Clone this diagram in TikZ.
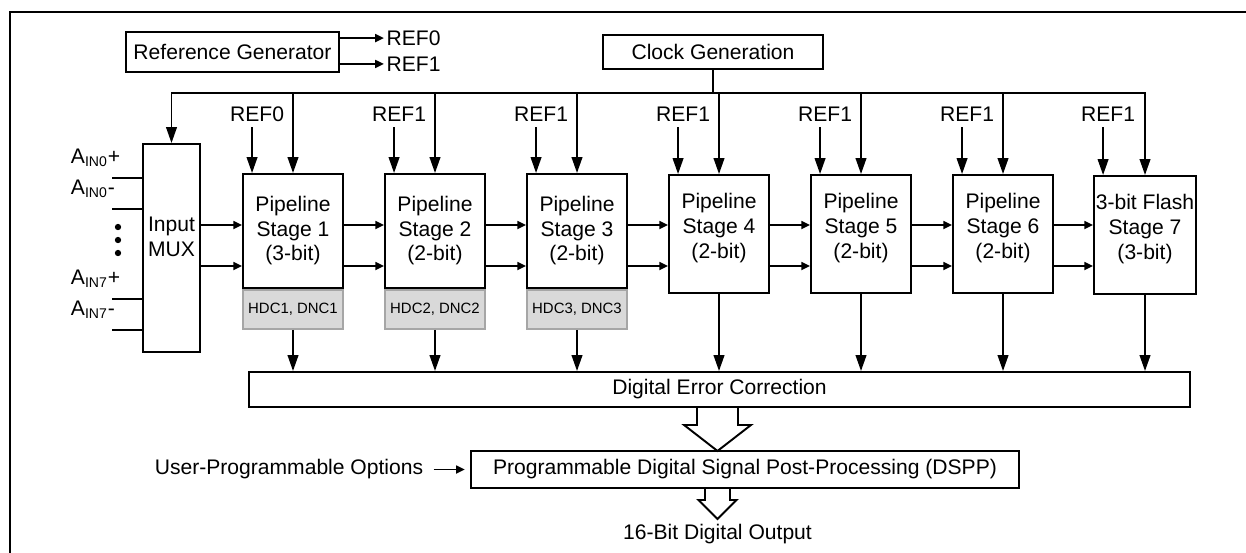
\documentclass[tikz,border=0pt]{standalone}
\usepackage{fontspec}
\setmainfont{Liberation Sans}
\usetikzlibrary{arrows.meta,calc}
\begin{document}
\begin{tikzpicture}[x=0.02cm,y=-0.02cm,line width=1.1pt,
        >={Triangle[length=9pt,width=6pt]},
        every node/.style={font=\fontsize{12}{14.2}\selectfont},
        block/.style={draw,align=center,inner sep=1pt},
        stage box/.style={block,minimum width=2cm},
        cal box/.style={block,fill=black!15,draw=black!35,minimum width=2cm,minimum height=0.78cm,font=\fontsize{8.5}{10}\selectfont},
        small tip/.style={-{Triangle[length=5pt,width=4.5pt]}},
        hollow arrow/.style={line join=miter},]
        \useasboundingbox (0,0) rectangle (1246,552);
        \draw (10,560) -- (10,12) -- (1260,12);
        \node[block,minimum width=4.26cm,minimum height=0.8cm] (refgen) at (232.5,52) {Reference Generator};
        \draw[small tip] ($(refgen.north east)+(0,7)$) -- ++(44,0) node[anchor=west,inner sep=1pt] (gen0) {REF0};
        \draw[small tip] ($(refgen.south east)+(0,-9)$) -- ++(44,0) node[anchor=west,inner sep=1pt] (gen1) {REF1};
        \node[block,minimum width=4.4cm,minimum height=0.68cm] (clk) at (713,52) {Clock Generation};
        \node[block,minimum width=1.14cm,minimum height=4.16cm,text depth=12.5pt] (mux) at (171.5,248) {Input\\MUX};
        \foreach \y/\n/\s [count=\k] in {178/0/+,209/0/-,299/7/+,330/7/-} {
            \coordinate (in\k) at (112,\y);
            \draw (in\k) -- (mux.west |- in\k);
            \node[anchor=base west,inner sep=0pt] (ain\k) at (70,\y-15) {A\textsubscript{IN\n}\s};
        }
        \foreach \y in {227,240,253} \fill (118,\y) circle (1.8pt);
        \coordinate (rowA) at (0,225);
        \coordinate (rowB) at (0,266);
        \coordinate (bus) at (0,93);
        \coordinate (refrow) at (0,127);
        \foreach \i/\hd/\bits/\cy/\h/\d/\r in {1/Pipeline/3/231/2.28/3/0,2/Pipeline/2/231/2.28/3/1,3/Pipeline/2/231/2.28/3/1,
                4/Pipeline/2/234/2.36/9/1,5/Pipeline/2/234/2.36/9/1,6/Pipeline/2/234/2.36/9/1,7/3-bit Flash/3/235/2.36/9/1} {
            \node[stage box,minimum height=\h cm,text depth=\d pt] (s\i) at ({293+142*(\i-1)},\cy) {\hd\\Stage \i\\(\bits-bit)};
            \coordinate (rin\i) at ($(s\i.north west)+(10,0)$);
            \draw[->] (rin\i |- refrow) -- (rin\i);
            \node[anchor=base] (rl\i) at ($(rin\i |- refrow)+(5,-6)$) {REF\r};
        }
        \foreach \i in {1,2,3} \node[cal box,anchor=north] (h\i) at (s\i.south) {HDC\i, DNC\i};
        \draw[small tip] (mux.east |- rowA) -- (s1.west |- rowA);
        \draw[small tip] (mux.east |- rowB) -- (s1.west |- rowB);
        \foreach \i [count=\j from 2] in {1,...,6} {
            \draw[small tip] (s\i.east |- rowA) -- (s\j.west |- rowA);
            \draw[small tip] (s\i.east |- rowB) -- (s\j.west |- rowB);
        }
        \draw (clk.south) -- (clk.south |- bus);
        \draw[<->] (mux.north) -- (mux.north |- bus) -- (s7.north |- bus) -- (s7.north);
        \foreach \i in {1,...,6} \draw[->] (s\i.north |- bus) -- (s\i.north);
        \node[block,minimum width=18.82cm,minimum height=0.7cm] (dec) at (719.5,389.5) {Digital Error Correction};
        \foreach \i in {1,2,3} \draw[->] (h\i.south) -- (h\i.south |- dec.north);
        \foreach \i in {4,...,7} \draw[->] (s\i.south) -- (s\i.south |- dec.north);
        \node[block,minimum width=10.96cm,minimum height=0.74cm] (dspp) at (745,469.5) {Programmable Digital Signal Post-Processing (DSPP)};
        \node[anchor=east] (opts) at (430,469.5) {User-Programmable Options};
        \draw[small tip,shorten <=2pt,shorten >=3pt] (opts) -- (dspp);
        \coordinate (axis) at (717.5,0);
        \draw[hollow arrow] (dec.south -| axis) ++(-20.5,0) -- ++(0,17) -- ++(-13,0) -- ++(33.5,26) -- ++(33.5,-26) -- ++(-13,0) -- ++(0,-17);
        \draw[hollow arrow] (dspp.south -| axis) ++(-12.5,0) -- ++(0,11) -- ++(-6.5,0) -- ++(19,19) -- ++(19,-19) -- ++(-6.5,0) -- ++(0,-11);
        \node (out) at (717.5,534) {16-Bit Digital Output};
     \end{tikzpicture}
\end{document}
